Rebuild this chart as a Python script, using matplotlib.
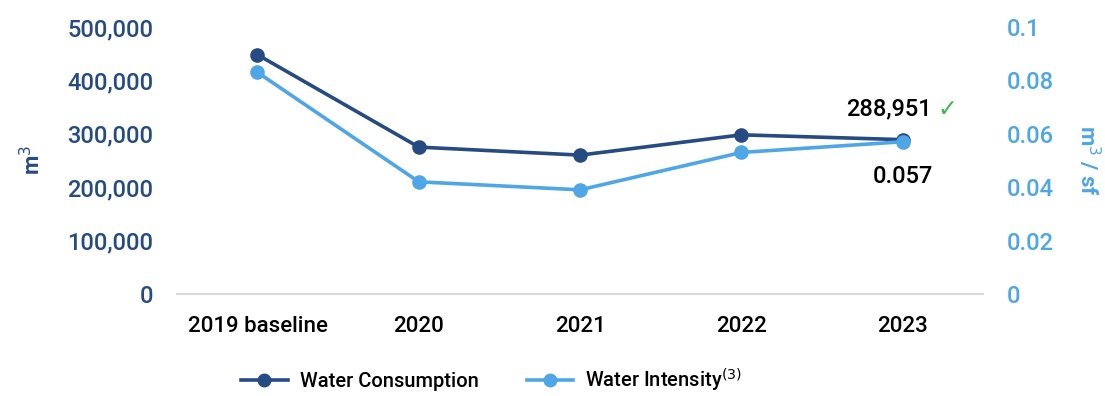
import matplotlib
matplotlib.use("Agg")
import matplotlib.pyplot as plt
from matplotlib.lines import Line2D

plt.rcParams['font.family'] = ['Roboto', 'DejaVu Sans']

categories = ["2019 baseline", "2020", "2021", "2022", "2023"]
consumption = [448000, 275000, 260000, 298000, 288951]
intensity = [0.083, 0.042, 0.039, 0.053, 0.057]
left_ticks = [0, 100000, 200000, 300000, 400000, 500000]
right_ticks = [0, 0.02, 0.04, 0.06, 0.08, 0.1]
right_tick_labels = ["0", "0.02", "0.04", "0.06", "0.08", "0.1"]

dark = "#264b82"
light = "#4ea6e6"

fig = plt.figure(figsize=(11.05, 3.96), dpi=100)
ax = fig.add_axes([0.160, 0.2576, 0.730, 0.6744])
ax2 = ax.twinx()

x = list(range(len(categories)))
ax.plot(x, consumption, color=dark, lw=2.6, marker="o", ms=9.5, zorder=3)
ax2.plot(x, intensity, color=light, lw=2.6, marker="o", ms=9.5, zorder=3)

ax.set_xlim(-0.5, len(categories) - 0.5)
ax.set_ylim(0, 500000)
ax2.set_ylim(0, 0.1)

ax.set_yticks(left_ticks)
ax.set_yticklabels([f"{v:,}" for v in left_ticks])
ax2.set_yticks(right_ticks)
ax2.set_yticklabels(right_tick_labels)
ax.set_xticks(x)
ax.set_xticklabels(categories)

for a in (ax, ax2):
    for s in ("top", "left", "right", "bottom"):
        a.spines[s].set_visible(False)
ax.spines["bottom"].set_visible(True)
ax.spines["bottom"].set_color("#d9d9d9")
ax.spines["bottom"].set_linewidth(1.5)

ax.tick_params(axis="y", length=0, pad=17, labelsize=17, labelcolor=dark)
ax2.tick_params(axis="y", length=0, pad=17, labelsize=17, labelcolor=light)
ax.tick_params(axis="x", length=0, pad=16, labelsize=16, labelcolor="black")
for lbl in ax.get_yticklabels() + ax2.get_yticklabels() + ax.get_xticklabels():
    lbl.set_fontweight("medium")

ax.set_ylabel("m$^3$", color=dark, fontsize=16, fontweight="bold", labelpad=16)
ax2.set_ylabel("m$^3$ / sf", color=light, fontsize=16, fontweight="bold",
               rotation=270, labelpad=34)

ax.annotate(f"{consumption[-1]:,}", xy=(x[-1], consumption[-1]), xytext=(21, 22),
            textcoords="offset points", ha="right", va="center",
            fontsize=17, fontweight="medium", color="black")
ax.annotate("\u2713", xy=(x[-1], consumption[-1]), xytext=(25, 22),
            textcoords="offset points", ha="left", va="center",
            fontsize=17, color="#3cb54a", family=["DejaVu Sans"])
ax2.annotate(f"{intensity[-1]:.3f}", xy=(x[-1], intensity[-1]), xytext=(0, -25),
             textcoords="offset points", ha="center", va="center",
             fontsize=17, fontweight="medium", color="black")

handles = [Line2D([], [], color=dark, lw=2.6, marker="o", ms=9),
           Line2D([], [], color=light, lw=2.6, marker="o", ms=9)]
fig.legend(handles, ["Water Consumption", "Water Intensity$^{(3)}$"],
           loc="lower center", bbox_to_anchor=(0.445, -0.04), ncol=2, frameon=False,
           handlelength=2.3, handletextpad=0.6, columnspacing=2.4,
           prop={"size": 14.5, "weight": "medium"})

fig.savefig("out.png", dpi=100)
